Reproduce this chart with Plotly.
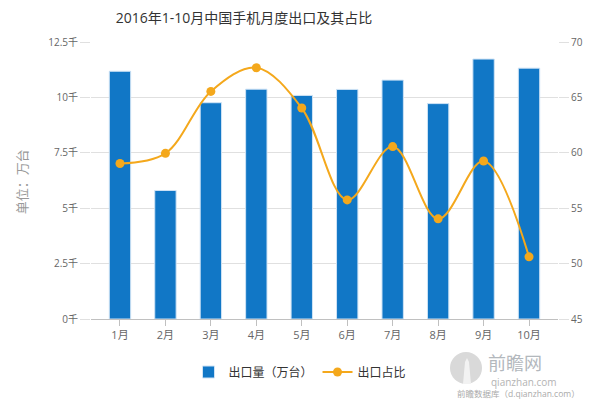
import plotly.graph_objects as go

months = ["1月", "2月", "3月", "4月", "5月", "6月", "7月", "8月", "9月", "10月"]
export_volume = [11180, 5800, 9760, 10370, 10090, 10360, 10780, 9720, 11730, 11320]
export_share = [59.03, 59.95, 65.54, 67.68, 64.04, 55.75, 60.56, 54.04, 59.26, 50.61]
left_ticks = [0, 2500, 5000, 7500, 10000, 12500]
left_ticktext = ["0千", "2.5千", "5千", "7.5千", "10千", "12.5千"]
right_ticks = [45, 50, 55, 60, 65, 70]

FONT = "Open Sans, Noto Sans CJK SC, sans-serif"
BLUE = "#1177c6"
ORANGE = "#f4a81c"
GRID = "#e0e0e0"

# page body has an 8px margin; figure is sized to fill the rest of the window
OFF = 8
W, H = 600 - OFF, 400 - OFF
L, R, T, B = 91 - OFF, 558 - OFF, 41.6 - OFF, 319 - OFF  # plot area in figure px


def px(xw):
    return (xw - OFF - L) / (R - L)


def py(yw):
    return (B - (yw - OFF)) / (B - T)


fig = go.Figure()
fig.add_trace(go.Bar(
    x=months, y=export_volume, name="出口量（万台）",
    marker=dict(color=BLUE, line=dict(color="#cfe3f5", width=1)),
    yaxis="y",
))
fig.add_trace(go.Scatter(
    x=months, y=export_share, name="出口占比",
    mode="lines+markers", line=dict(color=ORANGE, width=2, shape="spline", smoothing=1.0),
    marker=dict(color=ORANGE, size=9),
    yaxis="y2",
))

fig.update_layout(
    width=W, height=H,
    margin=dict(l=L, r=W - R, t=T, b=H - B, autoexpand=False),
    paper_bgcolor="white", plot_bgcolor="white",
    font=dict(family=FONT, color="#666666", size=11),
    bargap=0.53,
    showlegend=True,
    title=dict(text="2016年1-10月中国手机月度出口及其占比", x=(244 - OFF) / W, xanchor="center",
               y=1 - (18 - OFF) / H, yanchor="middle", font=dict(size=14, color="#333333", family=FONT)),
    xaxis=dict(showgrid=False, showline=True, linecolor="#c0c0c0", linewidth=1,
               ticks="outside", ticklen=6, tickcolor="#c0c0c0", automargin=False,
               tickfont=dict(size=11, color="#666666")),
    yaxis=dict(range=[0, 12500], tickvals=left_ticks, ticktext=left_ticktext,
               showgrid=True, gridcolor=GRID, gridwidth=1, zeroline=False,
               ticks="outside", ticklen=10, tickcolor=GRID, automargin=False,
               tickfont=dict(size=10, color="#666666")),
    yaxis2=dict(range=[45, 70], tickvals=right_ticks, overlaying="y", side="right",
                showgrid=False, zeroline=False, automargin=False,
                ticks="outside", ticklen=10, tickcolor=GRID,
                tickfont=dict(size=10, color="#666666")),
    legend=dict(orientation="h", xref="container", yref="container", x=(300 - OFF) / W, xanchor="center",
                y=1 - (372 - OFF) / H, yanchor="middle", font=dict(size=12, color="#333333"),
                itemwidth=30, traceorder="normal"),
)

# axis title as annotation
fig.add_annotation(text="单位：万台", xref="paper", yref="paper", x=px(22), y=py(182),
                   textangle=-90, showarrow=False, xanchor="center", yanchor="middle",
                   font=dict(size=13, color="#999999"))

# watermark
fig.add_shape(type="circle", xref="paper", yref="paper",
              x0=px(450), x1=px(482), y0=py(384), y1=py(352),
              fillcolor="#d9d9d9", line=dict(width=0), layer="above")
fig.add_shape(type="path", xref="paper", yref="paper",
              path=f"M {px(463)},{py(384)} L {px(465)},{py(362)} L {px(467)},{py(358)} "
                   f"L {px(469)},{py(362)} L {px(471)},{py(384)} Z",
              fillcolor="#f2f2f2", line=dict(width=0), layer="above")
fig.add_annotation(text="前瞻网", xref="paper", yref="paper", x=px(487), y=py(363),
                   showarrow=False, xanchor="left", yanchor="middle", borderpad=0,
                   font=dict(size=18, color="#b3b8bd"))
fig.add_annotation(text="qianzhan.com", xref="paper", yref="paper", x=px(490), y=py(382),
                   showarrow=False, xanchor="left", yanchor="middle", borderpad=0,
                   font=dict(size=10, color="#b3b3b3"))
fig.add_annotation(text="前瞻数据库（d.qianzhan.com）", xref="paper", yref="paper", x=px(456), y=py(394),
                   showarrow=False, xanchor="left", yanchor="middle", borderpad=0,
                   font=dict(size=8.5, color="#aaaaaa"))

fig.write_html("out.html")
